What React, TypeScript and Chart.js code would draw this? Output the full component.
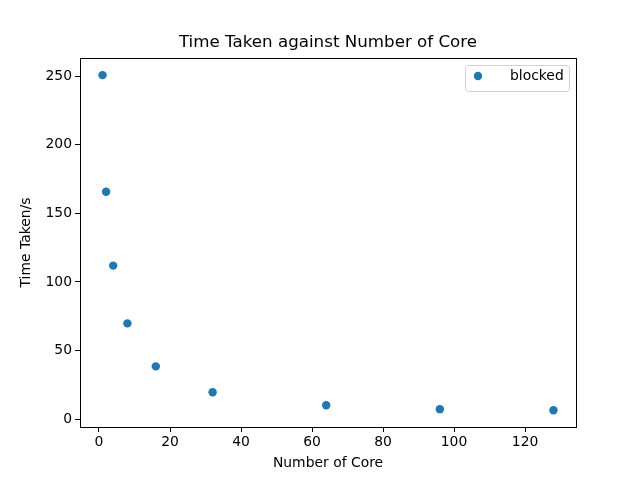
import { useEffect, useRef } from 'react';
import { Chart, registerables, Plugin } from 'chart.js';

Chart.register(...registerables);

const cores = [1, 2, 4, 8, 16, 32, 64, 96, 128];
const timeTaken = [250.7, 165.7, 111.9, 69.8, 38.5, 19.6, 10.2, 7.3, 6.5];
const xTicks = [0, 20, 40, 60, 80, 100, 120];
const yTicks = [0, 50, 100, 150, 200, 250];
const seriesLabel = 'blocked';
const chartTitle = 'Time Taken against Number of Core';
const blue = '#1f77b4';

// frame, title over the plot area, legend box in top-right corner
const framePlugin: Plugin = {
    id: 'frame',
    afterDraw(chart) {
        const { ctx, chartArea: a } = chart;
        ctx.save();
        ctx.strokeStyle = '#000';
        ctx.lineWidth = 1;
        ctx.strokeRect(a.left + 0.5, a.top + 0.5, a.right - a.left, a.bottom - a.top);

        ctx.fillStyle = '#000';
        ctx.font = '16.7px "DejaVu Sans"';
        ctx.textAlign = 'center';
        ctx.textBaseline = 'middle';
        ctx.fillText(chartTitle, (a.left + a.right) / 2, a.top - 15);

        const w = 104, h = 26;
        const x = a.right - w - 7, y = a.top + 7;
        ctx.fillStyle = 'rgba(255,255,255,0.8)';
        ctx.strokeStyle = '#d0d0d0';
        ctx.beginPath();
        ctx.roundRect(x + 0.5, y + 0.5, w, h, 3);
        ctx.fill();
        ctx.stroke();
        ctx.fillStyle = blue;
        ctx.beginPath();
        ctx.arc(x + 13, y + 11, 4.2, 0, Math.PI * 2);
        ctx.fill();
        ctx.fillStyle = '#000';
        ctx.font = '13.9px "DejaVu Sans"';
        ctx.textAlign = 'left';
        ctx.fillText(seriesLabel, x + 45, y + 11);
        ctx.restore();
    }
};

export default function App() {
    const canvasRef = useRef<HTMLCanvasElement>(null);

    useEffect(() => {
        if (!canvasRef.current) return;
        document.body.style.margin = '0';
        Chart.defaults.font.family = '"DejaVu Sans"';
        Chart.defaults.color = '#000';

        const chart = new Chart(canvasRef.current, {
            type: 'scatter',
            data: {
                datasets: [
                    {
                        label: seriesLabel,
                        data: cores.map((c, i) => ({ x: c, y: timeTaken[i] })),
                        backgroundColor: blue,
                        borderColor: blue,
                        pointRadius: 4.2,
                        borderWidth: 0
                    }
                ]
            },
            options: {
                animation: false,
                responsive: false,
                layout: { padding: { left: 0, right: 64, top: 58, bottom: 0 } },
                plugins: {
                    legend: { display: false },
                    tooltip: { enabled: false },
                    title: { display: false }
                },
                scales: {
                    x: {
                        type: 'linear',
                        min: -5.35,
                        max: 134.35,
                        afterBuildTicks: (axis) => { axis.ticks = xTicks.map(v => ({ value: v })); },
                        afterFit: (axis) => { axis.height = 53; },
                        grid: { drawOnChartArea: false, tickLength: 5, color: '#000' },
                        border: { color: '#000' },
                        ticks: { font: { size: 13.9 }, padding: 2, maxRotation: 0 },
                        title: { display: true, text: 'Number of Core', font: { size: 13.9 }, padding: { top: 4, bottom: 8 } }
                    },
                    y: {
                        min: -5.7,
                        max: 263.2,
                        afterBuildTicks: (axis) => { axis.ticks = yTicks.map(v => ({ value: v })); },
                        afterFit: (axis) => { axis.width = 80; },
                        grid: { drawOnChartArea: false, tickLength: 5, color: '#000' },
                        border: { color: '#000' },
                        ticks: { font: { size: 13.9 }, padding: 3 },
                        title: { display: true, text: 'Time Taken/s', font: { size: 13.9 }, padding: { top: 18, bottom: 0 } }
                    }
                }
            },
            plugins: [framePlugin]
        });

        return () => chart.destroy();
    }, []);

    return (
        <div style={{ width: 640, height: 480 }}>
            <canvas ref={canvasRef} width={640} height={480} />
        </div>
    );
}
